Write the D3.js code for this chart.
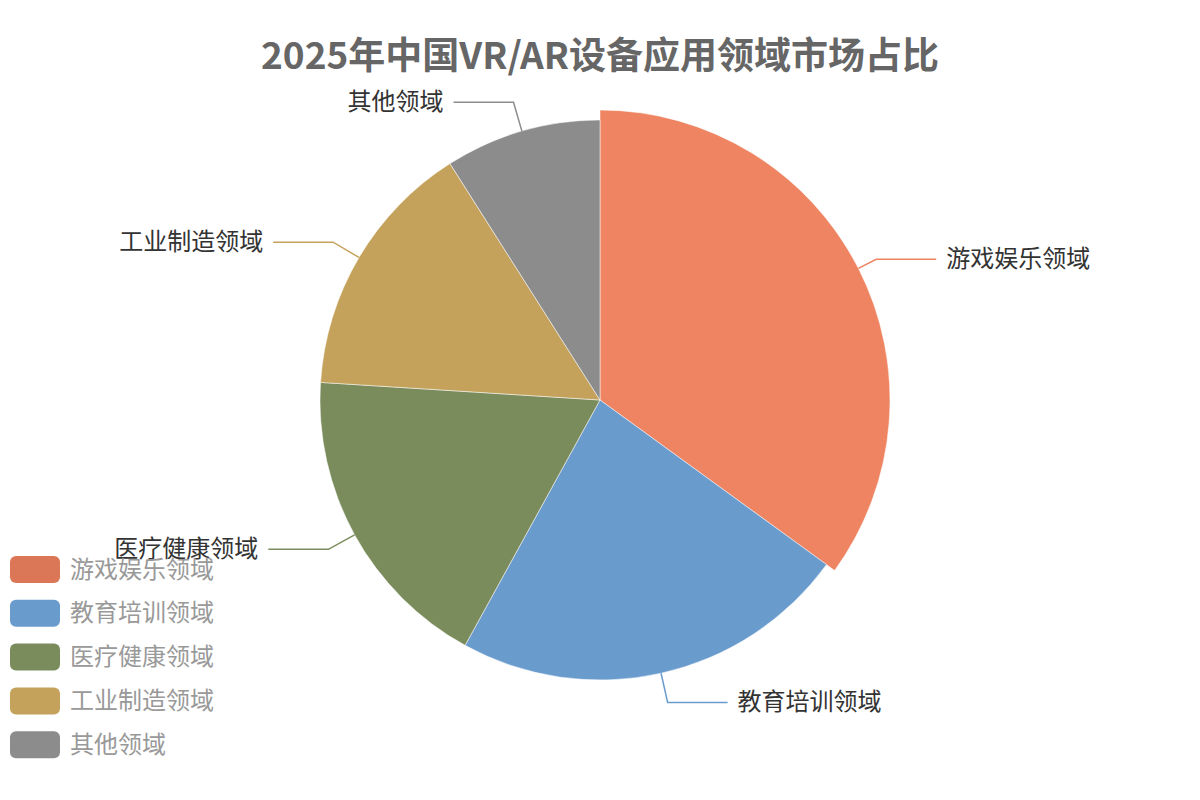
<!DOCTYPE html>
<html><head><meta charset="utf-8">
<script src="https://cdn.jsdelivr.net/npm/d3@7"></script>
<style>body{margin:0;background:#fff;}svg{display:block;font-family:"Noto Sans CJK SC","Microsoft YaHei",sans-serif;}</style>
</head><body>
<svg id="c" width="1200" height="800"></svg>
<script>
const categories = ["游戏娱乐领域","教育培训领域","医疗健康领域","工业制造领域","其他领域"];
const values = [35, 23, 18, 15, 9];
const colors = ["#DB7657","#6A9BCD","#7A8B5C","#C4A25B","#8C8C8C"];
const highlightColor = "#EE8461";
const title = "2025年中国VR/AR设备应用领域市场占比";

const svg = d3.select("#c");
const cx = 600, cy = 400, R = 280, Rh = 290, elbowR = 310, len2 = 60;

svg.append("text").attr("x",600).attr("y",69).attr("text-anchor","middle")
  .attr("font-size",37).attr("font-weight","bold").attr("fill","#666").text(title);

const data = categories.map((c,i)=>({name:c,value:values[i],i}));
const pie = d3.pie().value(d=>d.value).sort(null);
const arcs = pie(data);
const g = svg.append("g").attr("transform",`translate(${cx},${cy})`);

g.selectAll("path").data(arcs).join("path")
  .attr("d", d => d3.arc().innerRadius(0).outerRadius(d.index===0?Rh:R)(d))
  .attr("fill", d => d.index===0?highlightColor:colors[d.index])
  .attr("stroke","#fff").attr("stroke-width",0.5);

// legend
const lg = svg.append("g");
data.forEach((d,i)=>{
  const y = 556 + i*43.8;
  lg.append("rect").attr("x",10).attr("y",y).attr("width",50).attr("height",27).attr("rx",6)
    .attr("fill",colors[i]);
  lg.append("text").attr("x",70).attr("y",y+11).attr("dominant-baseline","central")
    .attr("font-size",24).attr("fill","#999").text(d.name);
});

// labels
arcs.forEach(d=>{
  const a = (d.startAngle+d.endAngle)/2;
  const r0 = d.index===0?Rh:R;
  const p0 = [Math.sin(a)*r0, -Math.cos(a)*r0];
  const p1 = [Math.sin(a)*elbowR, -Math.cos(a)*elbowR];
  const right = Math.sin(a) >= 0;
  const p2 = [p1[0] + (right?len2:-len2), p1[1]];
  const col = d.index===0?highlightColor:colors[d.index];
  g.append("polyline").attr("points",[p0,p1,p2].map(p=>p.join(",")).join(" "))
    .attr("fill","none").attr("stroke",col).attr("stroke-width",1.5);
  g.append("text").attr("x",p2[0] + (right?10:-10)).attr("y",p2[1]-3)
    .attr("text-anchor",right?"start":"end").attr("dominant-baseline","central")
    .attr("font-size",24).attr("fill","#333").text(d.data.name);
});
</script>
</body></html>
